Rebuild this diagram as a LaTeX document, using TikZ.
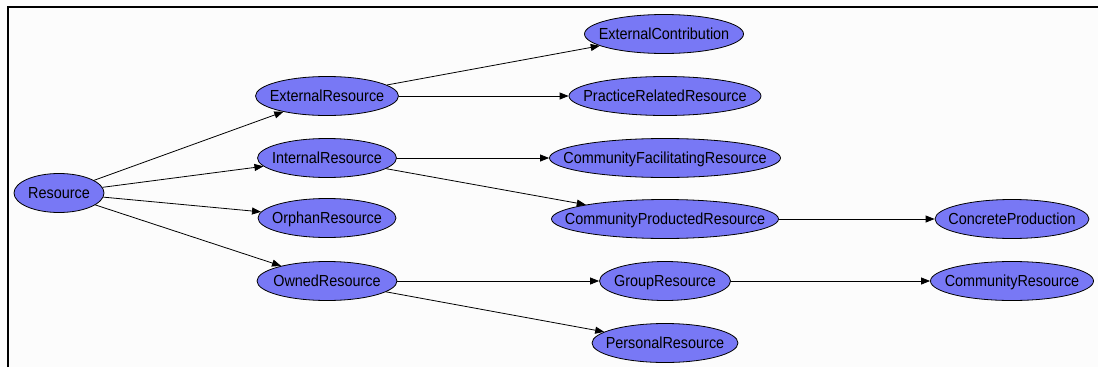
\documentclass[tikz,border=0pt]{standalone}
\usepackage{fontspec}
\setmainfont[FakeStretch=0.9]{Liberation Sans}
\usetikzlibrary{arrows.meta, shapes.geometric}
\definecolor{gvBlue}{RGB}{120,120,245}
\definecolor{gvPaper}{RGB}{252,252,252}

\begin{document}
\begin{tikzpicture}[
  x=1pt, y=-1pt,
  font=\fontsize{16}{19}\selectfont,
  cls/.style={
    ellipse, draw=black, fill=gvBlue, line width=0.8pt,
    minimum width=#1, minimum height=39pt,
    text height=11.5pt, text depth=0pt,
    inner xsep=-80pt, inner ysep=0pt
  },
  link/.style={-{Triangle[length=9pt, width=7pt]}, line width=0.8pt, draw=black},
]

% --- Page and frame -----------------------------------------------------------
\useasboundingbox (0,0) rectangle (1098,367);
\fill[gvPaper] (0,0) rectangle (1098,367);
\draw[line width=2.2pt] (8,367) -- (8,7) -- (1098,7);

% --- Root and first level -------------------------------------------------------
\node[cls=90pt]  (res)      at (59,193)  {Resource};
\node[cls=143pt] (extRes)   at (327,96)  {ExternalResource};
\node[cls=139pt] (intRes)   at (327,158) {InternalResource};
\node[cls=138pt] (orphRes)  at (327,218) {OrphanResource};
\node[cls=140pt] (ownRes)   at (327,281) {OwnedResource};

% --- Second level ----------------------------------------------------------------
\node[cls=159pt] (extContrib) at (664,34)  {ExternalContribution};
\node[cls=192pt] (practice)   at (665,96)  {PracticeRelatedResource};
\node[cls=231pt] (commFacil)  at (665,158) {CommunityFacilitatingResource};
\node[cls=227pt] (commProd)   at (665,219) {CommunityProductedResource};
\node[cls=131pt] (group)      at (665,281) {GroupResource};
\node[cls=146pt] (personal)   at (665,343) {PersonalResource};

% --- Third level ------------------------------------------------------------------
\node[cls=154pt] (concrete)   at (1012,219) {ConcreteProduction};
\node[cls=163pt] (community)  at (1012,281) {CommunityResource};

% --- Arrows ------------------------------------------------------------------------
\foreach \a/\b in {res/extRes, res/intRes, res/orphRes, res/ownRes,
                   extRes/extContrib, extRes/practice,
                   intRes/commFacil, intRes/commProd,
                   commProd/concrete,
                   ownRes/group, ownRes/personal,
                   group/community}
  \draw[link] (\a) -- (\b);

\end{tikzpicture}
\end{document}
